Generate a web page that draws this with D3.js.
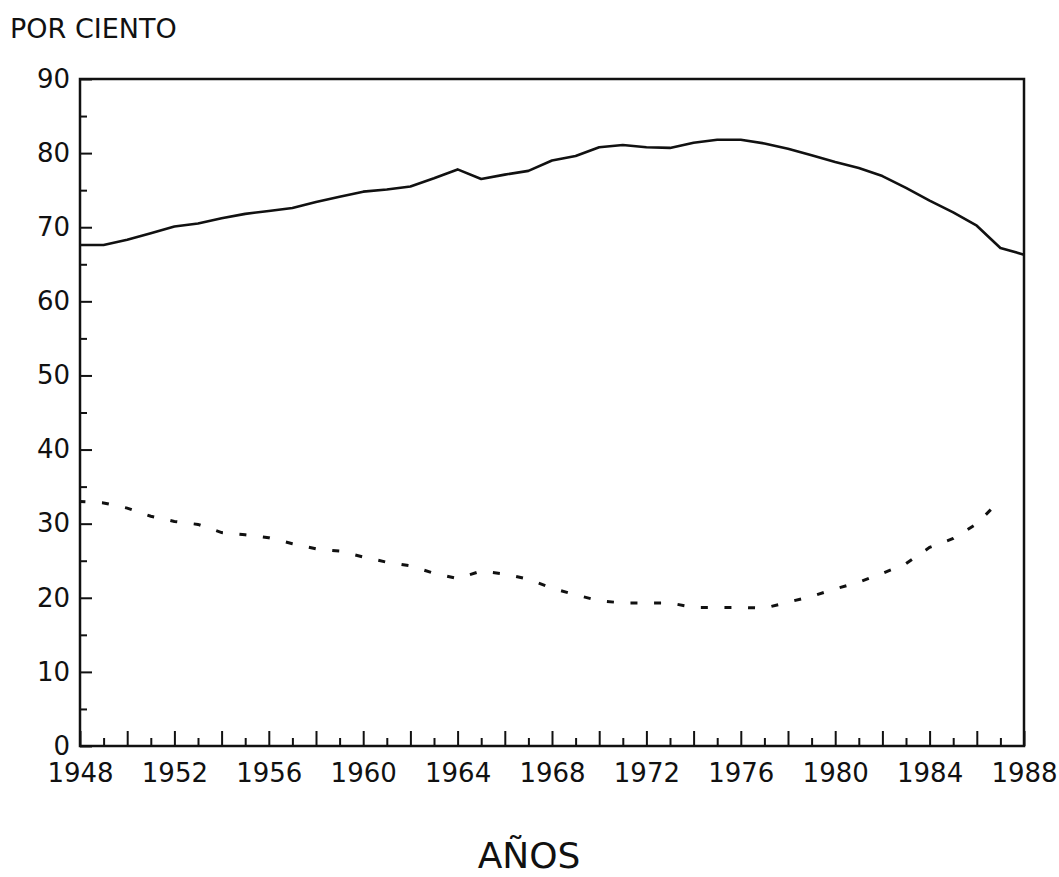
<!doctype html>
<html>
<head>
<meta charset="utf-8">
<title>Por ciento</title>
<script src="https://d3js.org/d3.v7.min.js"></script>
<style>
  body { margin: 0; background: #fff; }
  text { font-family: "DejaVu Sans", sans-serif; fill: #111; }
</style>
</head>
<body>
<script>
// years of the series
var years = d3.range(1948, 1989);
// upper (solid) series, per cent
var solidValues = [67.6, 67.6, 68.3, 69.2, 70.1, 70.5, 71.2, 71.8, 72.2, 72.6,
  73.4, 74.1, 74.8, 75.1, 75.5, 76.6, 77.8, 76.5, 77.1, 77.6,
  79.0, 79.6, 80.8, 81.1, 80.8, 80.7, 81.4, 81.8, 81.8, 81.3,
  80.6, 79.7, 78.8, 78.0, 76.9, 75.3, 73.6, 72.0, 70.2, 67.2, 66.3];
// lower (dashed) series, per cent, 1948-1987
var dashedValues = [33.0, 32.8, 32.1, 31.0, 30.3, 29.9, 28.8, 28.5, 28.1, 27.3,
  26.6, 26.3, 25.5, 24.8, 24.3, 23.3, 22.6, 23.6, 23.2, 22.5,
  21.3, 20.4, 19.6, 19.3, 19.3, 19.3, 18.7, 18.7, 18.7, 18.6,
  19.4, 20.2, 21.2, 22.1, 23.3, 24.6, 26.8, 28.0, 30.0, 33.2];
var xTickLabels = [1948, 1952, 1956, 1960, 1964, 1968, 1972, 1976, 1980, 1984, 1988];
var yTickLabels = [0, 10, 20, 30, 40, 50, 60, 70, 80, 90];

var W = 1059, H = 877;
var plotLeft = 80, plotRight = 1024, plotTop = 79, plotBottom = 746;

var svg = d3.select("body").append("svg").attr("width", W).attr("height", H);

var x = d3.scaleLinear().domain([1948, 1988]).range([plotLeft, plotRight]);
var y = d3.scaleLinear().domain([0, 90]).range([plotBottom, plotTop]);

// frame
svg.append("rect")
  .attr("x", plotLeft).attr("y", plotTop)
  .attr("width", plotRight - plotLeft).attr("height", plotBottom - plotTop)
  .attr("fill", "none").attr("stroke", "#111").attr("stroke-width", 2.5);

// x ticks pointing inward: long on even years, short on odd
var evenYears = years.filter(function (d) { return d % 2 == 0; });
var oddYears = years.filter(function (d) { return d % 2 == 1; });
svg.append("g").attr("transform", "translate(0," + plotBottom + ")")
  .call(d3.axisBottom(x).tickValues(evenYears).tickSize(-15).tickFormat(""));
svg.append("g").attr("transform", "translate(0," + plotBottom + ")")
  .call(d3.axisBottom(x).tickValues(oddYears).tickSize(-8).tickFormat(""));
svg.append("g").attr("transform", "translate(0," + plotBottom + ")")
  .call(d3.axisBottom(x).tickValues(xTickLabels).tickSize(0).tickPadding(18)
    .tickFormat(d3.format("d")));

// y ticks pointing inward
svg.append("g").attr("transform", "translate(" + plotLeft + ",0)")
  .call(d3.axisLeft(y).tickValues(yTickLabels).tickSize(-12).tickPadding(10)
    .tickFormat(d3.format("d")));
svg.append("g").attr("transform", "translate(" + plotLeft + ",0)")
  .call(d3.axisLeft(y).tickValues(d3.range(5, 90, 10)).tickSize(-7).tickFormat(""));

svg.selectAll(".domain").remove();
svg.selectAll(".tick line").attr("stroke", "#111").attr("stroke-width", 2);
svg.selectAll(".tick text").style("font-size", "26px").attr("fill", "#111");

// series
var line = d3.line()
  .x(function (d) { return x(d.year); })
  .y(function (d) { return y(d.value); });

var solidData = years.map(function (yr, i) { return { year: yr, value: solidValues[i] }; });
var dashedData = dashedValues.map(function (v, i) { return { year: 1948 + i, value: v }; });

svg.append("path").datum(solidData)
  .attr("d", line)
  .attr("fill", "none").attr("stroke", "#111").attr("stroke-width", 2.6)
  .attr("stroke-linejoin", "round");

svg.append("path").datum(dashedData)
  .attr("d", line)
  .attr("fill", "none").attr("stroke", "#111").attr("stroke-width", 3)
  .attr("stroke-dasharray", "7,16.6").attr("stroke-dashoffset", 1.6);

// titles
svg.append("text").attr("x", 10).attr("y", 38)
  .style("font-size", "27px").text("POR CIENTO");

svg.append("text").attr("x", 529).attr("y", 868)
  .attr("text-anchor", "middle")
  .style("font-size", "36px").text("AÑOS");
</script>
</body>
</html>
